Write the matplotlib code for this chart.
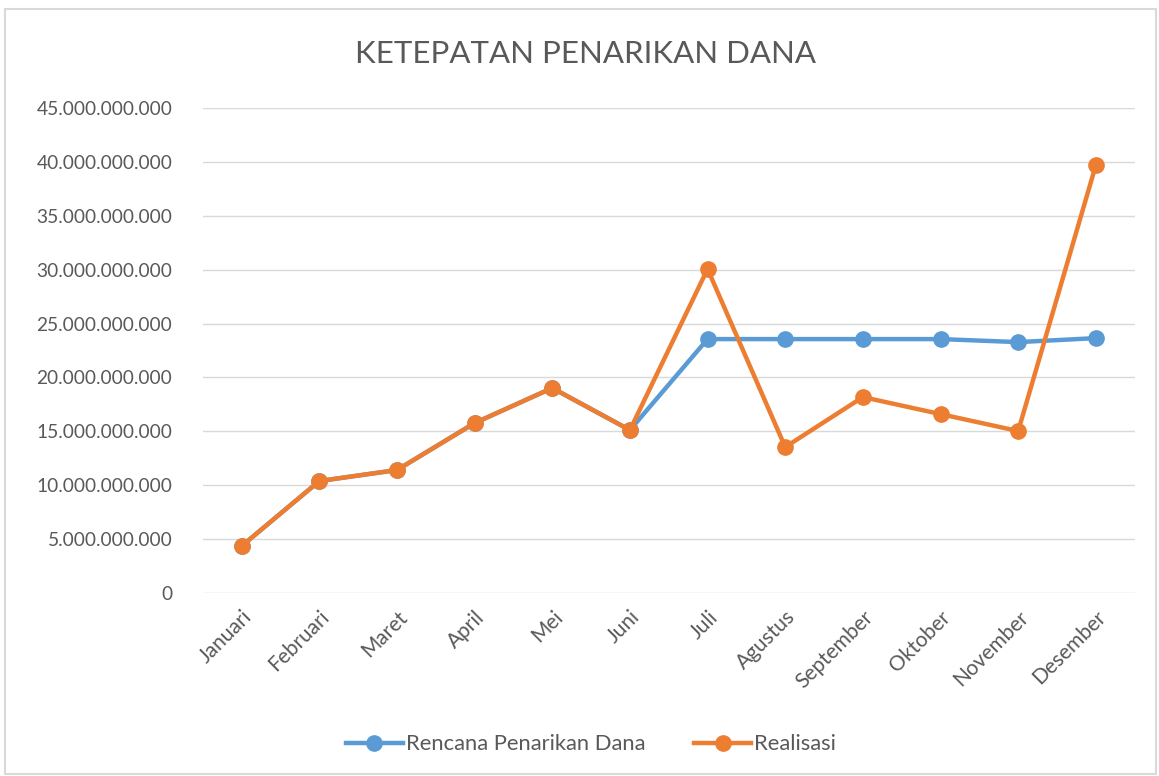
import numpy as np
import matplotlib.pyplot as plt
from matplotlib.ticker import FuncFormatter
from matplotlib.patches import Rectangle

bulan = ["Januari", "Februari", "Maret", "April", "Mei", "Juni", "Juli",
         "Agustus", "September", "Oktober", "November", "Desember"]
rencana = [4.36e9, 10.39e9, 11.41e9, 15.77e9, 19.02e9, 15.12e9, 23.56e9,
           23.56e9, 23.56e9, 23.56e9, 23.28e9, 23.65e9]
realisasi = [4.36e9, 10.39e9, 11.41e9, 15.77e9, 19.02e9, 15.12e9, 30.06e9,
             13.54e9, 18.18e9, 16.60e9, 15.03e9, 39.70e9]

plt.rcParams['font.family'] = ['Lato', 'DejaVu Sans']
grey = "#595959"

fig = plt.figure(figsize=(11.59, 7.76), dpi=100)
fig.patches.append(Rectangle((0.004, 0.003), 0.993, 0.985, transform=fig.transFigure,
                             fill=False, edgecolor="#d9d9d9", linewidth=1.5))

ax = fig.add_axes([0.175, 0.2358, 0.804, 0.625])
x = np.arange(len(bulan))
ax.plot(x, rencana, "-o", color="#5B9BD5", lw=3.2, ms=11, label="Rencana Penarikan Dana")
ax.plot(x, realisasi, "-o", color="#ED7D31", lw=3.2, ms=11, label="Realisasi")

ax.set_xlim(-0.5, len(bulan) - 0.5)
ax.set_ylim(0, 45e9)
ax.set_yticks(np.arange(0, 45e9 + 1, 5e9))
ax.yaxis.set_major_formatter(FuncFormatter(lambda v, p: f"{v:,.0f}".replace(",", ".")))
ax.set_xticks(x)
ax.set_xticklabels(bulan, rotation=45, ha="right", rotation_mode="anchor")
ax.tick_params(axis="both", length=0, labelcolor=grey)
ax.tick_params(axis="y", pad=22, labelsize=13.8)
ax.tick_params(axis="x", pad=10, labelsize=15)
ax.grid(axis="y", color="#d9d9d9", lw=1)
ax.set_axisbelow(True)
for s in ax.spines.values():
    s.set_visible(False)

fig.text(0.505, 0.93, "KETEPATAN PENARIKAN DANA", ha="center", va="center",
         fontsize=22.5, color=grey)
fig.legend(loc="center", bbox_to_anchor=(0.51, 0.041), ncol=2, frameon=False,
           fontsize=15.8, labelcolor=grey, handlelength=2.6, columnspacing=2.2,
           handletextpad=0.15)

fig.savefig("out.png", dpi=100)
